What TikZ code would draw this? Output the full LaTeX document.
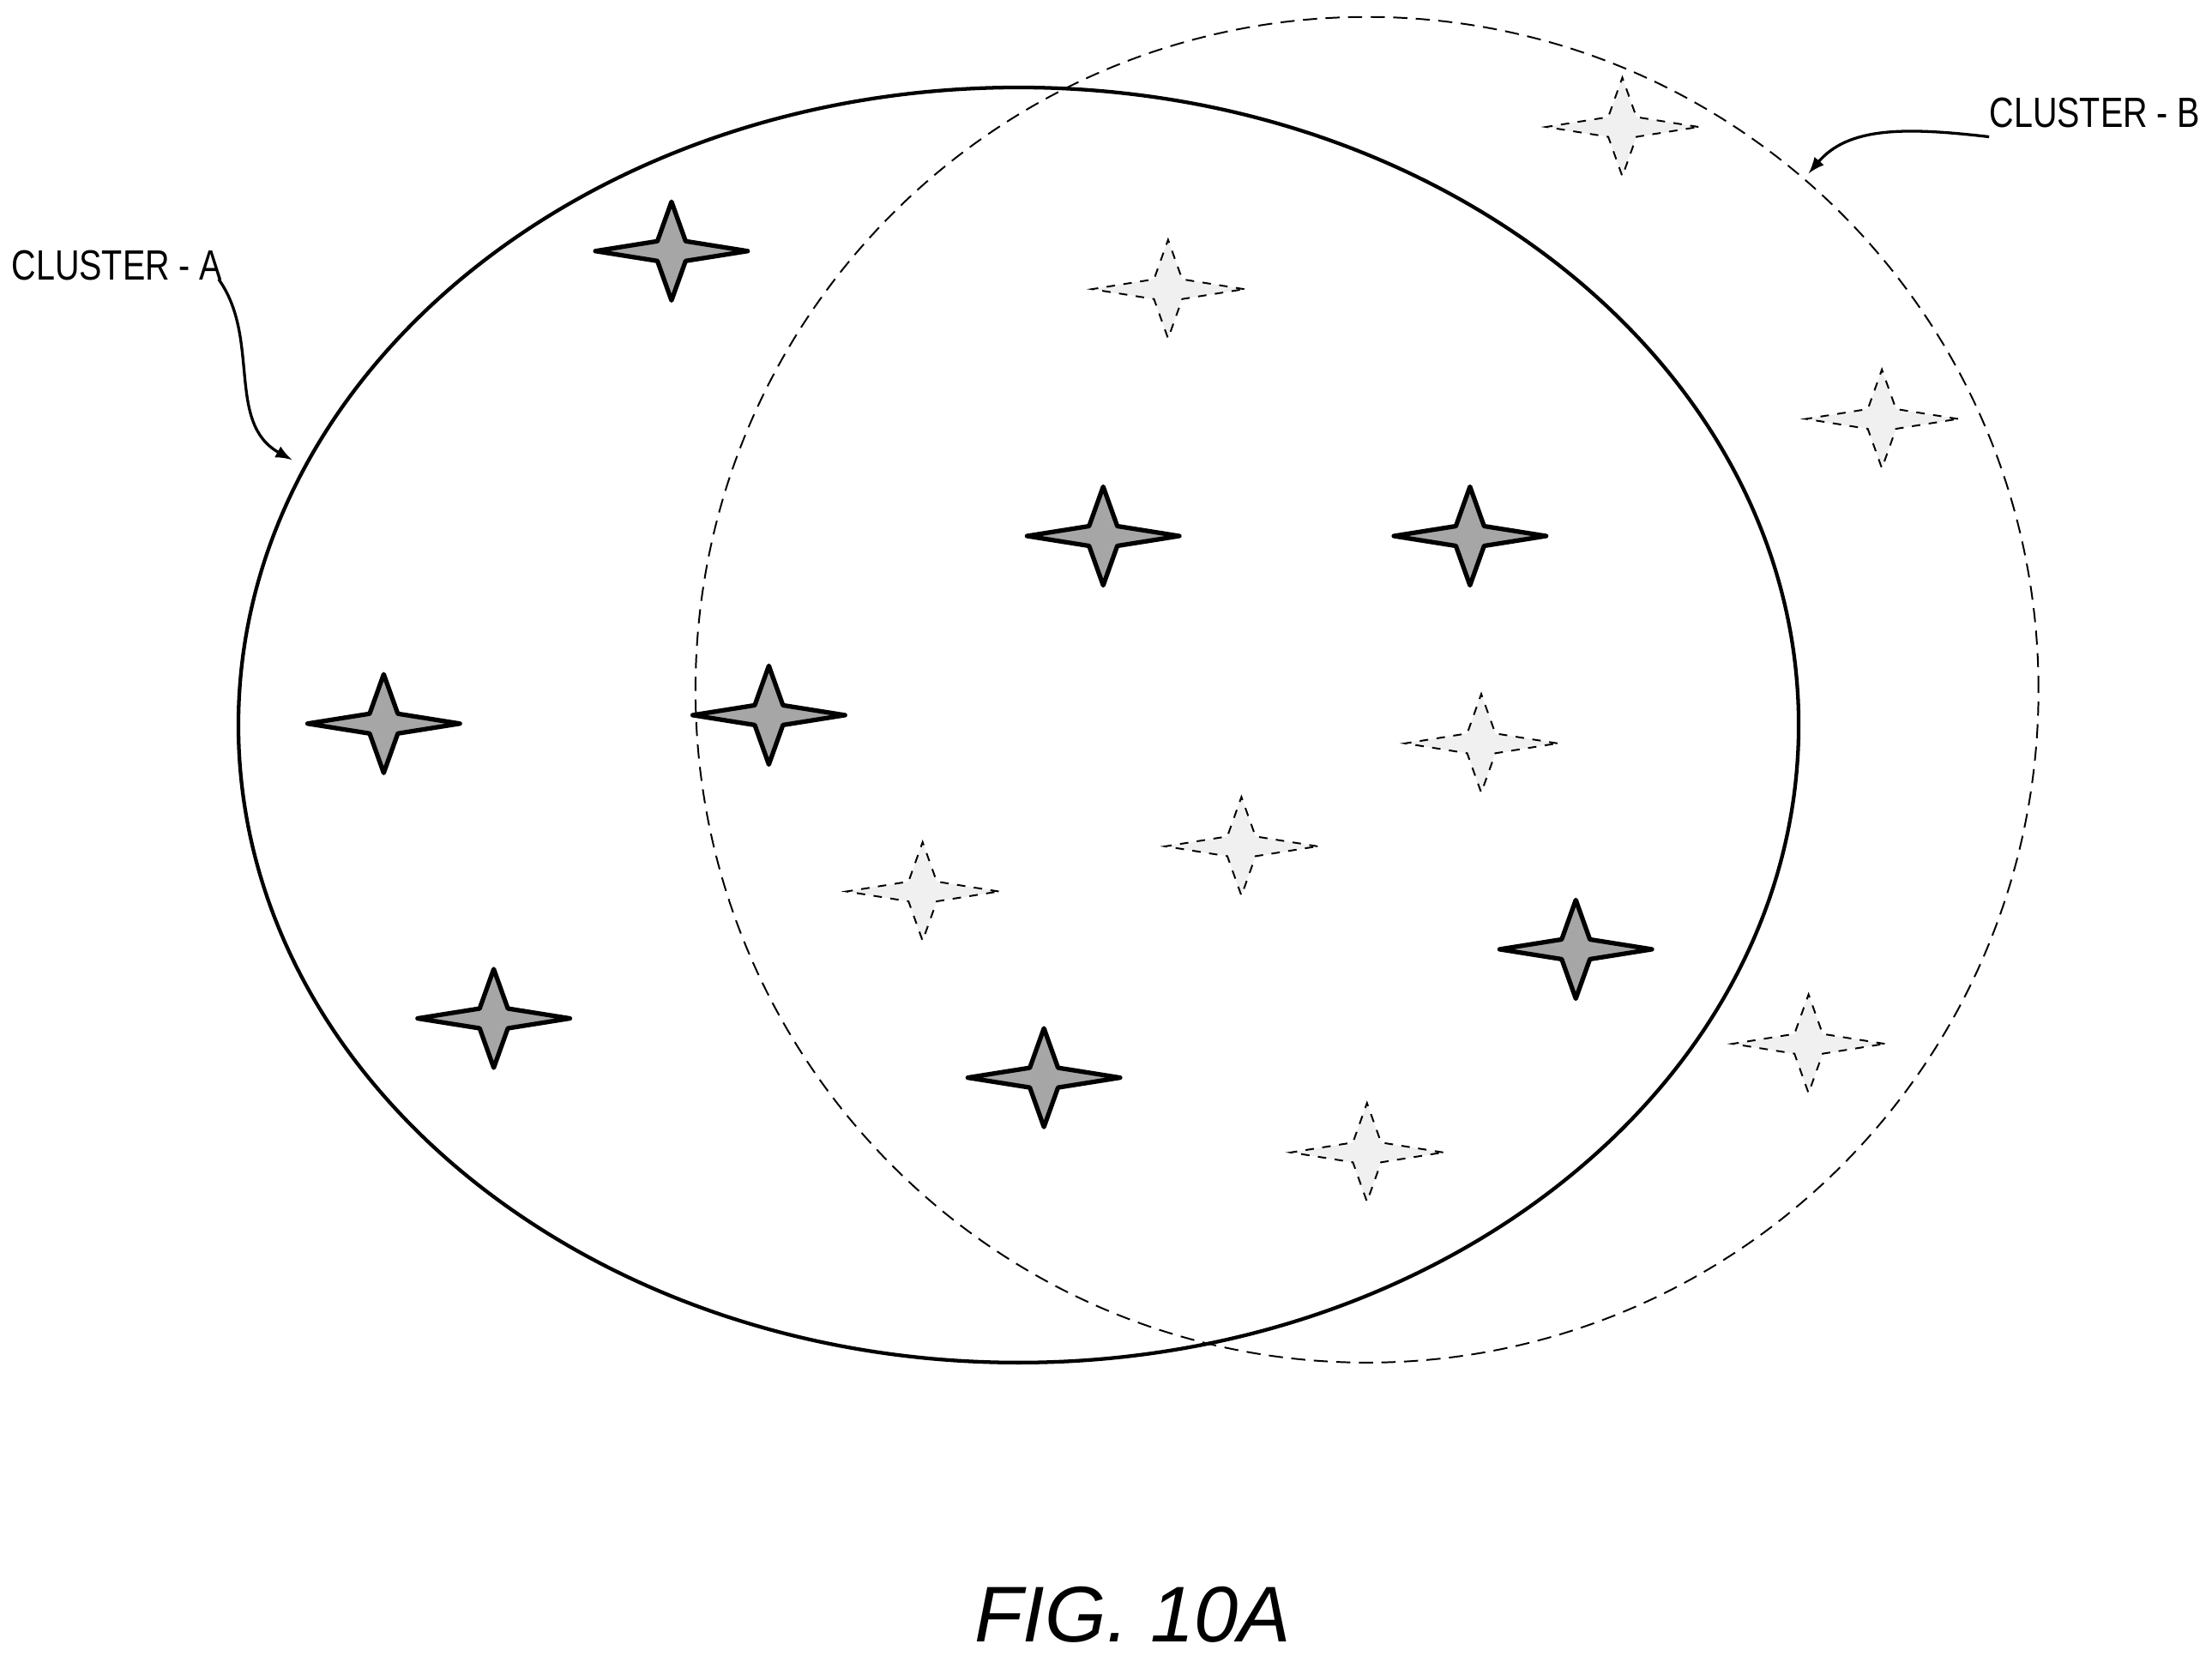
\documentclass[tikz,border=0pt]{standalone}
\usepackage{fontspec}
\setmainfont{Liberation Sans}
\usetikzlibrary{patterns}
\begin{document}
\begin{tikzpicture}[x=0.5pt,y=0.5pt,
  darkstar/.style={draw=black,line width=1.6pt,line join=round,fill=gray!70},
  lightstar/.style={draw=black,line width=0.6pt,dashed,fill=gray!12},
  lbl/.style={font=\fontsize{15}{17}\selectfont}]
\useasboundingbox (0,0) rectangle (1568,-1178);
\newcommand{\starat}[3]{\path[#3] (#1+54,-#2) -- (#1+10,-#2+7) -- (#1,-#2+35) -- (#1-10,-#2+7) -- (#1-54,-#2) -- (#1-10,-#2-7) -- (#1,-#2-35) -- (#1+10,-#2-7) -- cycle;}
\draw[line width=1.3pt] (722,-514) ellipse [x radius=553,y radius=452];
\draw[dashed,line width=0.6pt,dash pattern=on 5pt off 3pt] (969,-489) ellipse [x radius=476,y radius=477];
\foreach \x/\y in {476/178,782/380,1042/380,272/513,545/507,1117/673,350/722,740/764}
  {\starat{\x}{\y}{darkstar}}
\foreach \x/\y in {1150/90,828/205,1334/297,1050/527,880/600,654/632,1282/740,969/817}
  {\starat{\x}{\y}{lightstar}}
\node[lbl] (la) at (83,-188) {\scalebox{0.8}[1]{CLUSTER - A}};
\node[lbl] (lb) at (1485,-80) {\scalebox{0.8}[1]{CLUSTER - B}};
\coordinate (ta) at (207,-326);
\coordinate (tb) at (1282,-123);
\draw[-latex,line width=1pt] (155,-198) .. controls (185,-240) and (160,-300) .. (ta);
\draw[-latex,line width=1pt] (1410,-97) .. controls (1350,-90) and (1310,-90) .. (tb);
\node[font=\fontsize{28}{32}\selectfont\itshape] (fig) at (803,-1145) {FIG. 10A};
\end{tikzpicture}
\end{document}
